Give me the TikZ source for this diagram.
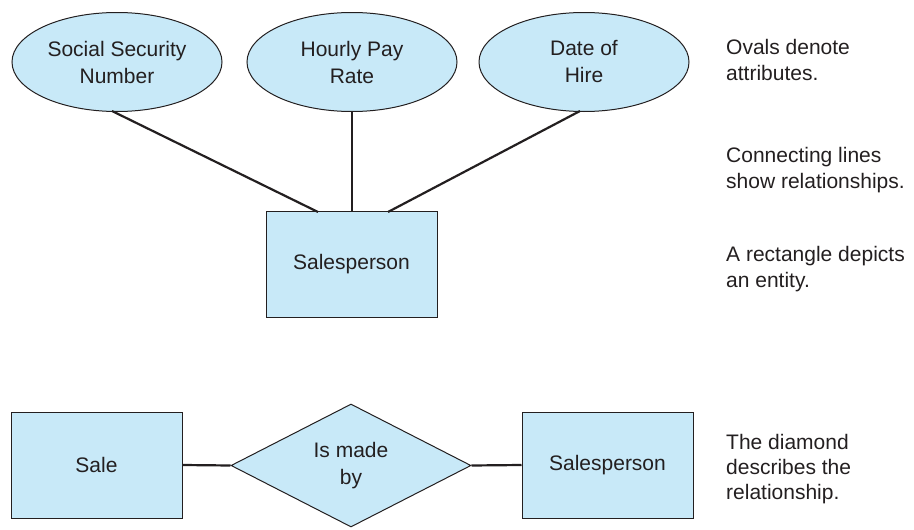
\documentclass[tikz,border=0pt]{standalone}
\usepackage{fontspec}
\setmainfont{Liberation Sans}
\usetikzlibrary{shapes.geometric}
\definecolor{fillb}{HTML}{C8E9F8}
\definecolor{ink}{HTML}{231F20}
\tikzset{
  base/.style={draw=ink, line width=1pt, fill=fillb, text=ink, font=\fontsize{21}{27}\selectfont, align=center, inner sep=0pt},
  attr/.style={base, ellipse, minimum width=210pt, minimum height=99pt},
  ent/.style={base, rectangle, minimum width=171pt, minimum height=106pt},
  rel/.style={base, diamond, minimum width=240pt, minimum height=123pt, aspect=1.95},
  conn/.style={draw=ink, line width=2.2pt},
  note/.style={text=ink, font=\fontsize{21}{26}\selectfont, align=left, anchor=west, inner sep=0pt}
}
\begin{document}
\begin{tikzpicture}[x=1pt,y=-1pt]
\useasboundingbox (0,0) rectangle (914,530);
\node[attr] (ssn) at (117,62) {Social Security\\Number};
\node[attr] (pay) at (352,62) {Hourly Pay\\Rate};
\node[attr] (hire) at (584,62) {Date of\\Hire};
\node[ent] (sp) at (351.5,264) {Salesperson};
\coordinate (c1) at (318,212);
\coordinate (c2) at (352,212);
\coordinate (c3) at (388,212);
\coordinate (a1) at (112,111);
\coordinate (a3) at (580,111);
\draw[conn] (a1) -- (c1);
\draw[conn] (pay.south) -- (c2);
\draw[conn] (a3) -- (c3);
\node[ent] (sale) at (96.5,465) {Sale};
\node[rel] (made) at (351,465.5) {Is made\\by};
\node[ent] (sp2) at (607.5,465) {Salesperson};
\draw[conn] (sale.east) -- (made.west);
\draw[conn] (made.east) -- (sp2.west);
\node[note] (n1) at (726,60) {Ovals denote\\attributes.};
\node[note] (n2) at (726,170) {Connecting lines\\show relationships.};
\node[note] (n3) at (726,269) {A rectangle depicts\\an entity.};
\node[note, font=\fontsize{21}{25}\selectfont] (n4) at (726,469) {The diamond\\describes the\\relationship.};
\end{tikzpicture}
\end{document}
